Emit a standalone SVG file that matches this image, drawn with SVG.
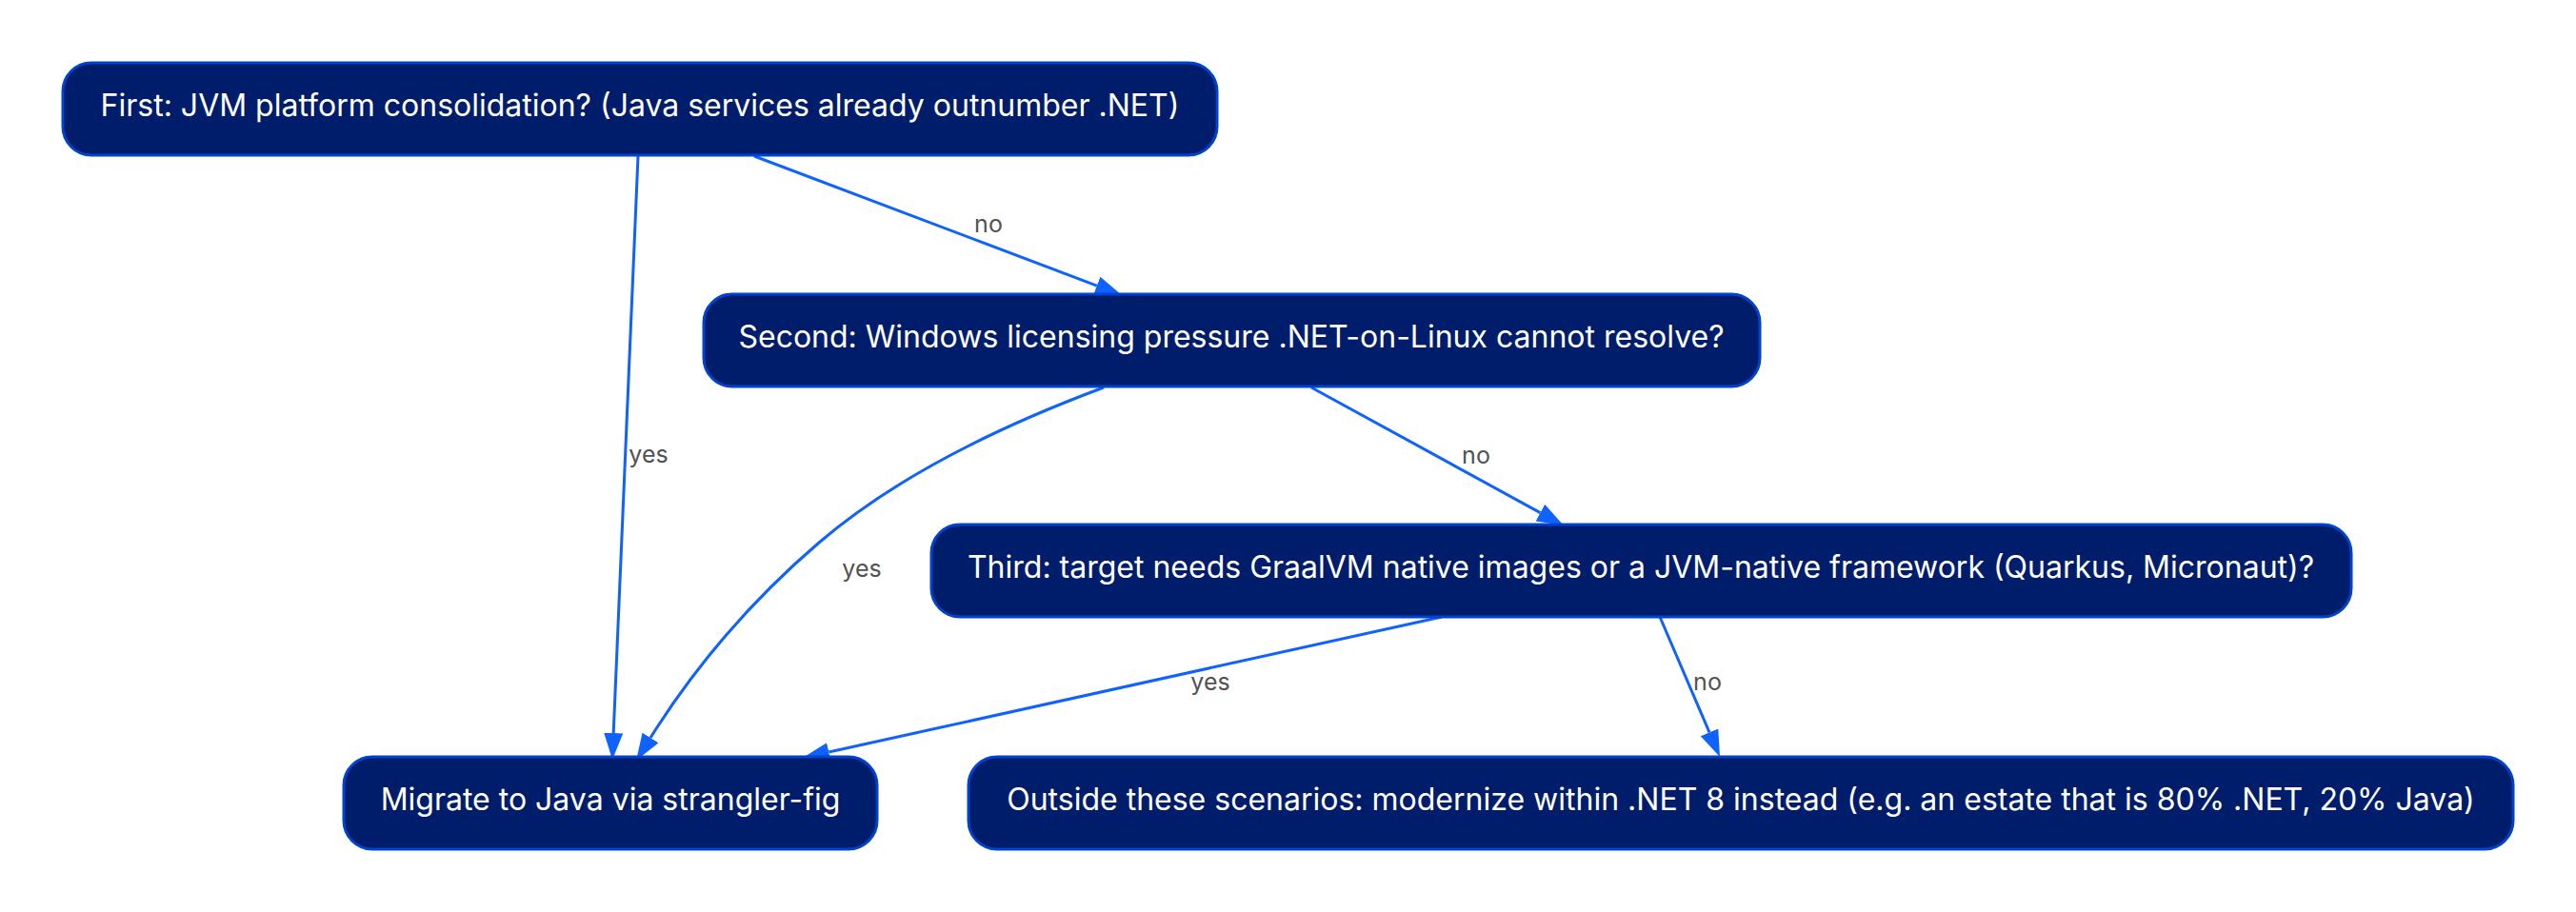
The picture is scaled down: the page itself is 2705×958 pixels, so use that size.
<svg xmlns="http://www.w3.org/2000/svg" width="2705" height="958" viewBox="0 0 2705 958">
  <style>
    .node rect { fill: #001d6c; stroke: #0043ce; stroke-width: 3; }
    .node text { fill: #ffffff; font-family: Inter, "Liberation Sans", sans-serif; font-size: 32px; text-anchor: middle; }
    .edge { fill: none; stroke: #0f62fe; stroke-width: 3; }
    .lbl { fill: #525252; font-family: Inter, "Liberation Sans", sans-serif; font-size: 25px; text-anchor: middle; }
  </style>
  <defs>
    <marker id="arrow" markerUnits="userSpaceOnUse" markerWidth="28" markerHeight="20" viewBox="0 0 28 20" refX="0" refY="10" orient="auto">
      <path d="M0,0 L28,10 L0,20 z" fill="#0f62fe"/>
    </marker>
  </defs>
  <rect width="2705" height="958" fill="#ffffff"/>

  <g id="connectors">
    <path class="edge" d="M670,164 L644.2,770" marker-end="url(#arrow)"/>
    <path class="edge" d="M792,164 L1151.8,300.1" marker-end="url(#arrow)"/>
    <path class="edge" d="M1159,407 C1030,455 930,510 860,570 C790,630 730,700 683,775" marker-end="url(#arrow)"/>
    <path class="edge" d="M1377,407 L1617.4,538.6" marker-end="url(#arrow)"/>
    <path class="edge" d="M1514,648 L870.3,790" marker-end="url(#arrow)"/>
    <path class="edge" d="M1743,648 L1795,769.3" marker-end="url(#arrow)"/>
    <text class="lbl" x="681" y="486">yes</text>
    <text class="lbl" x="1038" y="244">no</text>
    <text class="lbl" x="905" y="606">yes</text>
    <text class="lbl" x="1550" y="487">no</text>
    <text class="lbl" x="1271" y="725">yes</text>
    <text class="lbl" x="1793" y="725">no</text>
  </g>

  <g id="n1" class="node">
    <rect x="66" y="66" width="1212" height="97" rx="30" ry="30"/>
    <text x="672" y="122">First: JVM platform consolidation? (Java services already outnumber .NET)</text>
  </g>
  <g id="n2" class="node">
    <rect x="739" y="309" width="1109" height="97" rx="30" ry="30"/>
    <text x="1293" y="365">Second: Windows licensing pressure .NET-on-Linux cannot resolve?</text>
  </g>
  <g id="n3" class="node">
    <rect x="978" y="551" width="1491" height="97" rx="30" ry="30"/>
    <text x="1723" y="607">Third: target needs GraalVM native images or a JVM-native framework (Quarkus, Micronaut)?</text>
  </g>
  <g id="n4" class="node">
    <rect x="361" y="795" width="560" height="97" rx="30" ry="30"/>
    <text x="641" y="851">Migrate to Java via strangler-fig</text>
  </g>
  <g id="n5" class="node">
    <rect x="1017" y="795" width="1622" height="97" rx="30" ry="30"/>
    <text x="1828" y="851">Outside these scenarios: modernize within .NET 8 instead (e.g. an estate that is 80% .NET, 20% Java)</text>
  </g>
</svg>
